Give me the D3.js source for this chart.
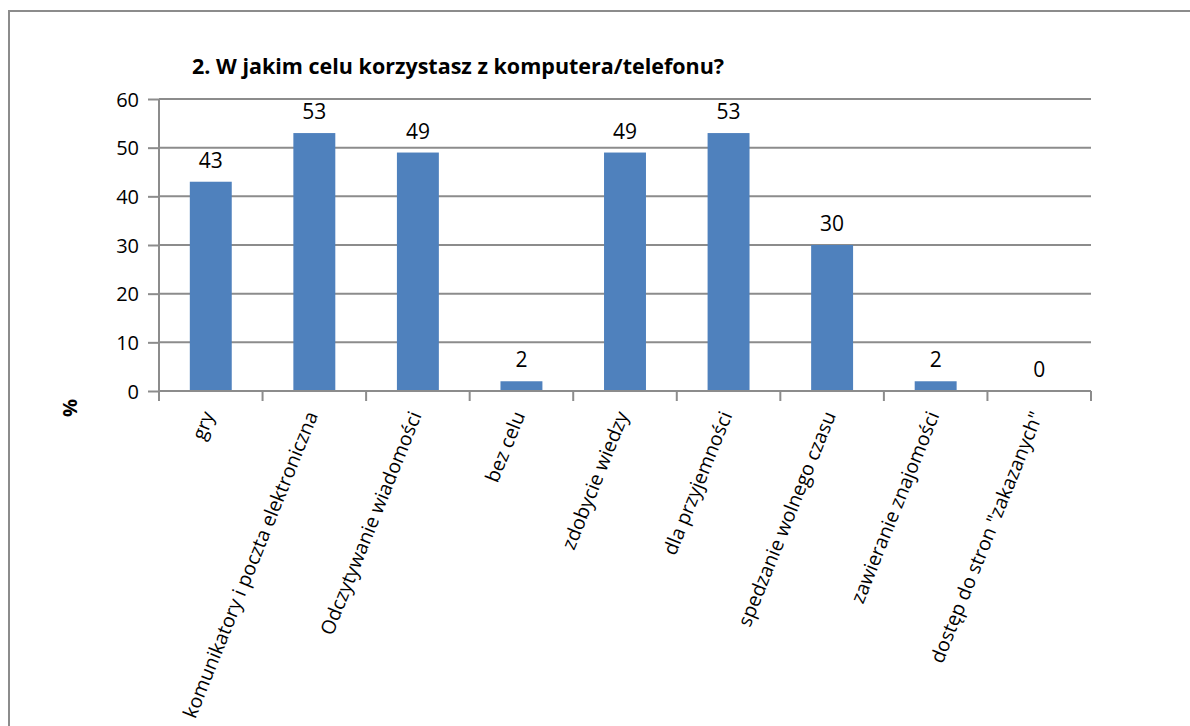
<!DOCTYPE html>
<html>
<head>
<meta charset="utf-8">
<script src="https://cdn.jsdelivr.net/npm/d3@7"></script>
<style>
  body { margin: 0; background: #fff; }
  svg text { font-family: "Open Sans", "Noto Sans", sans-serif; fill: #000; }
</style>
</head>
<body>
<script>
// Chart data
var categories = ["gry", "komunikatory i poczta elektroniczna", "Odczytywanie wiadomości", "bez celu",
  "zdobycie wiedzy", "dla przyjemności", "spedzanie wolnego czasu", "zawieranie znajomości",
  "dostęp do stron \"zakazanych\""];
var values = [43, 53, 49, 2, 49, 53, 30, 2, 0];
var yTicks = [0, 10, 20, 30, 40, 50, 60];
var title = "2. W jakim celu korzystasz z komputera/telefonu?";

var W = 1190, H = 726;
var margin = {top: 99, left: 159, right: 99, bottom: 335},
    width = W - margin.left - margin.right,
    height = H - margin.top - margin.bottom;

var svg = d3.select("body").append("svg")
    .attr("width", W)
    .attr("height", H);

// outer frame
svg.append("rect")
    .attr("x", 9).attr("y", 11)
    .attr("width", 1200).attr("height", 800)
    .attr("fill", "none")
    .attr("stroke", "#8c8c8c")
    .attr("stroke-width", 2);

svg.append("text")
    .attr("x", 192).attr("y", 74)
    .style("font-size", "21.5px")
    .style("font-weight", "bold")
    .text(title);

var chart = svg.append("g")
    .attr("transform", "translate(" + margin.left + "," + margin.top + ")");

var x = d3.scaleBand().domain(categories).range([0, width]).padding(0);
var y = d3.scaleLinear().domain([0, 60]).range([height, 0]);

// gridlines
chart.selectAll(".grid")
    .data(yTicks.filter(function(d) { return d > 0; }))
  .enter().append("line")
    .attr("x1", 0).attr("x2", width)
    .attr("y1", function(d) { return y(d); })
    .attr("y2", function(d) { return y(d); })
    .attr("stroke", "#8c8c8c")
    .attr("stroke-width", 2);

// bars
var barW = x.bandwidth() * 0.405;
chart.selectAll(".bar")
    .data(values)
  .enter().append("rect")
    .attr("x", function(d, i) { return x(categories[i]) + (x.bandwidth() - barW) / 2; })
    .attr("width", barW)
    .attr("y", function(d) { return y(d); })
    .attr("height", function(d) { return height - y(d); })
    .attr("fill", "#4f81bd");

// value labels
chart.selectAll(".val")
    .data(values)
  .enter().append("text")
    .attr("x", function(d, i) { return x(categories[i]) + x.bandwidth() / 2; })
    .attr("y", function(d) { return y(d) - 14; })
    .attr("text-anchor", "middle")
    .style("font-size", "21px")
    .text(function(d) { return d; });

// y axis
var yAxis = chart.append("g")
    .call(d3.axisLeft(y).tickValues(yTicks).tickSize(11).tickPadding(9));
yAxis.selectAll("line, path").attr("stroke", "#8c8c8c").attr("stroke-width", 2);
yAxis.select(".domain").attr("d", "M0," + height + "V0");
yAxis.selectAll("text").style("font-size", "20px").attr("dy", "0.36em");

// x axis with ticks at category boundaries
var bounds = categories.map(function(c) { return x(c); }).concat([width]);
var xg = chart.append("g").attr("transform", "translate(0," + height + ")");
xg.append("line").attr("x1", 0).attr("x2", width)
    .attr("stroke", "#8c8c8c").attr("stroke-width", 2);
xg.selectAll(".tk")
    .data(bounds)
  .enter().append("line")
    .attr("x1", function(d) { return d; }).attr("x2", function(d) { return d; })
    .attr("y1", 0).attr("y2", 10)
    .attr("stroke", "#8c8c8c").attr("stroke-width", 2);
xg.selectAll(".lab")
    .data(categories)
  .enter().append("text")
    .attr("text-anchor", "end")
    .attr("transform", function(d) {
      return "translate(" + (x(d) + x.bandwidth() / 2 + 4) + ",24) rotate(-68)";
    })
    .style("font-size", "19.5px")
    .text(function(d) { return d; });

// y axis title
svg.append("text")
    .attr("transform", "translate(77,408) rotate(-90)")
    .attr("text-anchor", "middle")
    .style("font-size", "20px")
    .style("font-weight", "bold")
    .text("%");
</script>
</body>
</html>
